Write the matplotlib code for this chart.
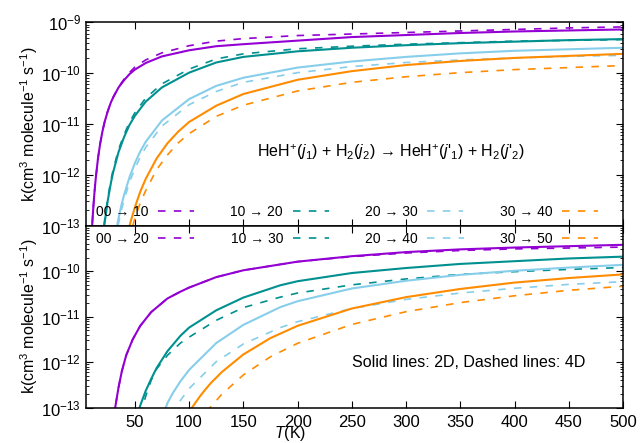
import numpy as np
import matplotlib
matplotlib.use("Agg")
import matplotlib.pyplot as plt
from matplotlib.ticker import LogLocator, NullFormatter, FixedLocator

plt.rcParams['font.family'] = ['Liberation Sans', 'DejaVu Sans']
plt.rcParams['mathtext.fontset'] = 'custom'
plt.rcParams['mathtext.rm'] = 'Liberation Sans'
plt.rcParams['mathtext.it'] = 'Liberation Sans:italic'

colors = ['#9400d3', '#009090', '#87ceeb', '#ff8c00']

# upper panel: log10 k, solid = 2D, dashed = 4D
up_labels = ['00 → 10', '10 → 20', '20 → 30', '30 → 40']
up_T = [
    [10, 11, 12, 13, 14, 16, 18, 20, 22, 25, 28, 30, 35, 40, 45, 50, 60, 75, 100, 125, 150, 200, 250, 300, 350, 400, 450, 500],
    [20, 22, 25, 28, 30, 35, 40, 45, 50, 60, 75, 100, 125, 150, 200, 250, 300, 350, 400, 450, 500],
    [32, 35, 38, 40, 45, 50, 55, 60, 75, 100, 125, 150, 200, 250, 300, 350, 400, 450, 500],
    [44, 46, 50, 55, 60, 70, 80, 90, 100, 125, 150, 200, 250, 300, 350, 400, 450, 500],
]
up_2d = [
    [-13.26, -12.87, -12.56, -12.29, -12.06, -11.68, -11.39, -11.16, -10.97, -10.75, -10.57, -10.48, -10.28, -10.14, -10.02, -9.93, -9.80, -9.67, -9.55, -9.47, -9.43, -9.36, -9.29, -9.25, -9.21, -9.18, -9.16, -9.14],
    [-13.35, -12.97, -12.51, -12.15, -11.95, -11.55, -11.26, -11.02, -10.84, -10.56, -10.28, -9.99, -9.79, -9.68, -9.57, -9.50, -9.45, -9.41, -9.38, -9.35, -9.33],
    [-13.18, -12.85, -12.56, -12.40, -12.05, -11.77, -11.54, -11.35, -10.93, -10.51, -10.25, -10.09, -9.89, -9.77, -9.68, -9.61, -9.56, -9.53, -9.50],
    [-13.09, -12.93, -12.64, -12.33, -12.08, -11.68, -11.38, -11.15, -10.96, -10.64, -10.41, -10.13, -9.96, -9.84, -9.76, -9.70, -9.66, -9.62],
]
up_4d = [
    [-13.26, -12.87, -12.56, -12.29, -12.06, -11.68, -11.39, -11.16, -10.97, -10.75, -10.57, -10.47, -10.27, -10.12, -9.99, -9.88, -9.74, -9.60, -9.46, -9.37, -9.32, -9.26, -9.23, -9.20, -9.17, -9.14, -9.11, -9.09],
    [-13.30, -12.92, -12.46, -12.10, -11.90, -11.50, -11.21, -10.97, -10.78, -10.49, -10.21, -9.92, -9.72, -9.62, -9.52, -9.47, -9.43, -9.40, -9.37, -9.355, -9.34],
    [-13.30, -12.95, -12.66, -12.50, -12.15, -11.88, -11.65, -11.46, -11.04, -10.62, -10.36, -10.18, -9.99, -9.87, -9.79, -9.74, -9.70, -9.67, -9.65],
    [-13.30, -13.15, -12.86, -12.55, -12.31, -11.90, -11.61, -11.37, -11.19, -10.85, -10.63, -10.35, -10.18, -10.07, -9.99, -9.93, -9.89, -9.85],
]

# lower panel
lo_labels = ['00 → 20', '10 → 30', '20 → 40', '30 → 50']
lo_T = [
    [30, 32, 35, 38, 42, 48, 55, 65, 80, 92, 100, 125, 150, 200, 250, 300, 350, 400, 450, 500],
    [52, 55, 60, 65, 70, 80, 92, 100, 125, 150, 184, 200, 250, 300, 350, 400, 450, 500],
    [77, 80, 85, 92, 100, 125, 150, 184, 200, 250, 300, 350, 400, 450, 500],
    [100, 110, 115, 120, 130, 150, 175, 200, 250, 300, 350, 400, 450, 500],
]
lo_2d = [
    [-13.25, -12.98, -12.55, -12.20, -11.85, -11.50, -11.20, -10.90, -10.60, -10.45, -10.36, -10.13, -9.98, -9.79, -9.67, -9.58, -9.52, -9.48, -9.45, -9.42],
    [-13.20, -12.95, -12.63, -12.37, -12.13, -11.76, -11.42, -11.24, -10.86, -10.58, -10.31, -10.22, -10.04, -9.93, -9.84, -9.78, -9.72, -9.68],
    [-13.10, -12.90, -12.68, -12.42, -12.17, -11.58, -11.18, -10.79, -10.66, -10.38, -10.21, -10.08, -9.99, -9.92, -9.86],
    [-13.09, -12.75, -12.60, -12.46, -12.22, -11.83, -11.47, -11.20, -10.82, -10.57, -10.39, -10.25, -10.15, -10.07],
]
lo_4d = [
    [-13.25, -12.98, -12.55, -12.20, -11.85, -11.50, -11.20, -10.90, -10.60, -10.45, -10.36, -10.13, -9.98, -9.79, -9.68, -9.60, -9.545, -9.51, -9.49, -9.47],
    [-13.50, -13.15, -12.75, -12.40, -12.15, -11.85, -11.58, -11.45, -11.08, -10.80, -10.57, -10.48, -10.30, -10.17, -10.07, -10.01, -9.96, -9.92],
    [-13.46, -13.32, -13.10, -12.84, -12.58, -11.99, -11.60, -11.24, -11.11, -10.82, -10.62, -10.48, -10.375, -10.29, -10.23],
    [-13.68, -13.30, -13.13, -12.98, -12.71, -12.28, -11.88, -11.585, -11.17, -10.89, -10.69, -10.54, -10.42, -10.33],
]

xticks = [50, 100, 150, 200, 250, 300, 350, 400, 450, 500]
ylabel = r'k(cm$^3$ molecule$^{-1}$ s$^{-1}$)'

fig = plt.figure(figsize=(6.41, 4.43), dpi=100)
ax1 = fig.add_axes([0.1342, 0.4905, 0.8378, 0.4591])
ax2 = fig.add_axes([0.1342, 0.0797, 0.8378, 0.4108])


def draw(ax, Ts, solid, dashed, labels):
    for i in range(4):
        T = np.array(Ts[i])
        ax.plot(T, 10.0 ** np.array(solid[i]), color=colors[i], lw=1.5)
        ax.plot(T, 10.0 ** np.array(dashed[i]), color=colors[i], lw=1.2,
                dashes=(4.5, 5), label=labels[i])
    ax.set_yscale('log')
    ax.set_xlim(5, 500)
    ax.set_ylim(1e-13, 1e-9)
    ax.xaxis.set_major_locator(FixedLocator(xticks))
    ax.yaxis.set_major_locator(LogLocator(base=10, numticks=10))
    ax.yaxis.set_minor_locator(LogLocator(base=10, subs=np.arange(2, 10), numticks=10))
    ax.yaxis.set_minor_formatter(NullFormatter())
    ax.tick_params(which='both', direction='in', top=True, right=True, labelsize=12)
    ax.tick_params(which='major', length=5)
    ax.tick_params(which='minor', length=2.5)
    ax.tick_params(axis='x', pad=5)
    ax.set_ylabel(ylabel, fontsize=11.5, labelpad=1)
    for s in ax.spines.values():
        s.set_linewidth(1.1)
    leg = ax.legend(ncol=4, markerfirst=False, frameon=False, fontsize=10,
                    handlelength=2.6, handletextpad=0.7, columnspacing=2.6,
                    loc='center left', borderaxespad=0)
    return leg


leg1 = draw(ax1, up_T, up_2d, up_4d, up_labels)
leg1.set_bbox_to_anchor((0.008, 0.066), transform=ax1.transAxes)
ax1.tick_params(labelbottom=False)

leg2 = draw(ax2, lo_T, lo_2d, lo_4d, lo_labels)
leg2.set_bbox_to_anchor((0.008, 0.925), transform=ax2.transAxes)
ax2.set_yticks([1e-13, 1e-12, 1e-11, 1e-10])
ax2.set_ylim(1e-13, 1e-9)

ax1.text(0.567, 0.36,
         "HeH$^{+}$($j_1$) + H$_2$($j_2$) → HeH$^{+}$($j$'$_1$) + H$_2$($j$'$_2$)",
         transform=ax1.transAxes, ha='center', va='center', fontsize=11.5)
ax2.text(0.712, 0.25, 'Solid lines: 2D, Dashed lines: 4D',
         transform=ax2.transAxes, ha='center', va='center', fontsize=11.5)
fig.text(0.452, 0.0, r'$T$(K)', ha='center', va='bottom', fontsize=11.5)

fig.savefig('out.png', dpi=100)
